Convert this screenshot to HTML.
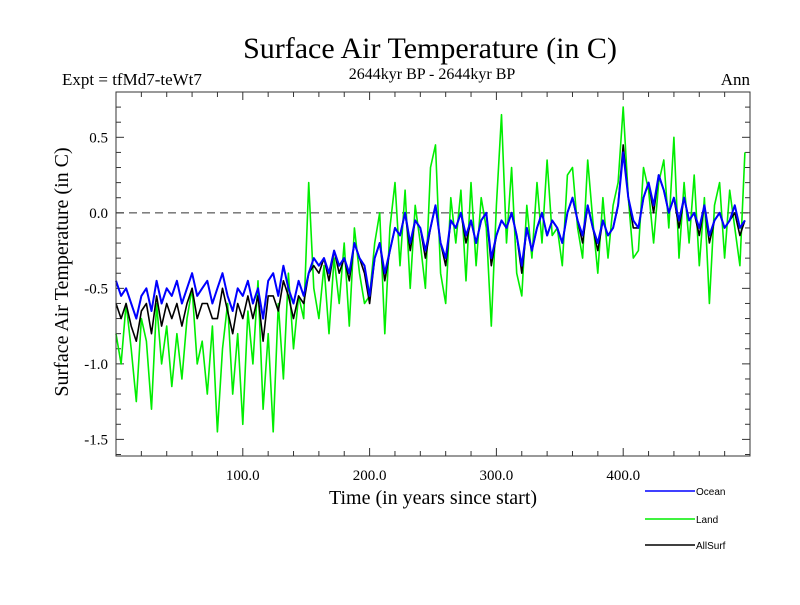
<!DOCTYPE html>
<html><head><meta charset="utf-8"><style>
body{margin:0;background:#fff;}
svg text{font-family:"Liberation Serif",serif;}
.tk{font-family:"Liberation Serif",serif;font-size:15px;}
.lg{font-family:"Liberation Sans",sans-serif;font-size:10px;}
</style></head><body>
<svg id="chart" width="800" height="600" xmlns="http://www.w3.org/2000/svg">
<rect width="800" height="600" fill="#fff"/>
<text x="430" y="58" text-anchor="middle" font-size="30">Surface Air Temperature (in C)</text>
<text x="432" y="79" text-anchor="middle" font-size="16">2644kyr BP - 2644kyr BP</text>
<text x="62" y="85" font-size="17">Expt = tfMd7-teWt7</text>
<text x="750" y="85" text-anchor="end" font-size="17">Ann</text>
<text transform="translate(68,272) rotate(-90)" text-anchor="middle" font-size="20">Surface Air Temperature (in C)</text>
<text x="433" y="504" text-anchor="middle" font-size="20">Time (in years since start)</text>
<g id="ticks"></g>
<line id="zero" stroke="#333" stroke-width="1" stroke-dasharray="8,5"/>
<g id="series"></g>
<rect x="116" y="92" width="634" height="364" fill="none" stroke="#333" stroke-width="1"/>
<g>
<line x1="645" y1="491" x2="695" y2="491" stroke="#0000ff" stroke-width="1.5"/>
<text class="lg" x="696" y="495">Ocean</text>
<line x1="645" y1="519" x2="695" y2="519" stroke="#00ee00" stroke-width="1.5"/>
<text class="lg" x="696" y="523">Land</text>
<line x1="645" y1="545" x2="695" y2="545" stroke="#000" stroke-width="1.5"/>
<text class="lg" x="696" y="549">AllSurf</text>
</g>
</svg>
<script>
const yearStep = 4;
const xTicks = [100, 200, 300, 400];
const xTickLabels = ["100.0", "200.0", "300.0", "400.0"];
const yTicks = [0.5, 0.0, -0.5, -1.0, -1.5];
const yTickLabels = ["0.5", "0.0", "-0.5", "-1.0", "-1.5"];
const ocean = [-0.45,-0.55,-0.5,-0.6,-0.7,-0.55,-0.5,-0.65,-0.45,-0.6,-0.5,-0.55,-0.45,
-0.6,-0.5,-0.4,-0.55,-0.5,-0.45,-0.6,-0.5,-0.4,-0.55,-0.65,-0.5,-0.55,
-0.45,-0.6,-0.5,-0.7,-0.45,-0.4,-0.55,-0.35,-0.5,-0.6,-0.45,-0.55,
-0.4,-0.3,-0.35,-0.3,-0.4,-0.25,-0.35,-0.3,-0.4,-0.2,-0.3,-0.35,-0.55,
-0.3,-0.2,-0.4,-0.25,-0.1,-0.15,0.0,-0.2,-0.05,-0.1,-0.25,-0.1,
0.05,-0.2,-0.3,-0.05,-0.1,0.0,-0.15,-0.05,-0.2,-0.05,0.0,-0.3,-0.15,
-0.05,-0.1,0.0,-0.15,-0.35,-0.1,-0.25,-0.1,0.0,-0.15,-0.05,-0.1,
-0.2,0.0,0.1,-0.05,-0.15,0.05,-0.1,-0.2,-0.05,-0.15,-0.1,0.05,0.4,
0.1,-0.05,-0.1,0.1,0.2,0.05,0.25,0.15,0.0,0.1,-0.05,0.1,
-0.05,0.0,-0.1,0.05,-0.15,-0.05,0.0,-0.1,-0.05,0.05,-0.1,-0.05];
const land = [-0.8,-1.0,-0.6,-0.9,-1.25,-0.7,-0.85,-1.3,-0.6,-1.0,-0.75,-1.15,-0.8,
-1.1,-0.7,-0.5,-1.0,-0.85,-1.2,-0.75,-1.45,-0.9,-0.6,-1.2,-0.8,-1.4,
-0.65,-1.0,-0.45,-1.3,-0.8,-1.45,-0.6,-1.1,-0.4,-0.9,-0.55,-0.7,
0.2,-0.5,-0.7,-0.35,-0.8,-0.3,-0.6,-0.2,-0.75,-0.1,-0.4,-0.6,-0.55,
-0.2,0.0,-0.8,-0.1,0.2,-0.35,0.15,-0.5,0.05,-0.2,-0.5,0.3,
0.45,-0.4,-0.6,0.1,-0.2,0.15,-0.45,0.2,-0.35,0.1,-0.1,-0.75,0.05,
0.65,-0.2,0.3,-0.4,-0.55,0.05,-0.3,0.2,-0.2,0.35,-0.15,-0.1,
-0.35,0.25,0.3,-0.1,-0.3,0.35,-0.05,-0.4,0.1,-0.3,0.05,0.2,0.7,
0.1,-0.3,-0.25,0.3,0.15,-0.2,0.2,0.35,-0.1,0.5,-0.3,0.2,
-0.2,0.25,-0.35,0.1,-0.6,0.05,0.2,-0.3,0.15,-0.1,-0.35,0.4];
const allSurf = [-0.6,-0.7,-0.6,-0.75,-0.85,-0.65,-0.6,-0.8,-0.55,-0.75,-0.6,-0.7,-0.6,
-0.75,-0.6,-0.5,-0.7,-0.6,-0.6,-0.7,-0.7,-0.5,-0.65,-0.8,-0.6,-0.7,
-0.55,-0.7,-0.55,-0.85,-0.55,-0.55,-0.65,-0.45,-0.55,-0.7,-0.55,-0.6,
-0.4,-0.35,-0.4,-0.3,-0.45,-0.25,-0.4,-0.3,-0.45,-0.2,-0.3,-0.4,-0.6,
-0.3,-0.2,-0.45,-0.25,-0.1,-0.15,0.0,-0.25,-0.05,-0.1,-0.3,-0.1,
0.05,-0.2,-0.35,-0.05,-0.1,0.0,-0.2,-0.05,-0.2,-0.05,0.0,-0.35,-0.15,
-0.05,-0.1,0.0,-0.15,-0.4,-0.1,-0.25,-0.1,0.0,-0.15,-0.05,-0.1,
-0.2,0.0,0.1,-0.05,-0.2,0.05,-0.1,-0.25,-0.05,-0.15,-0.1,0.05,0.45,
0.1,-0.1,-0.1,0.1,0.2,0.0,0.25,0.15,0.0,0.1,-0.1,0.1,
-0.05,0.0,-0.15,0.05,-0.2,-0.05,0.0,-0.1,-0.05,0.0,-0.15,-0.05];

const NS = "http://www.w3.org/2000/svg";
const L = 116, R = 750, T = 92, B = 456;
const xMin = 0, xMax = 500, yMin = -1.61, yMax = 0.80;
function xs(t){ return L + (t - xMin) / (xMax - xMin) * (R - L); }
function ys(v){ return B - (v - yMin) / (yMax - yMin) * (B - T); }

const tg = document.getElementById('ticks');
function mk(tag, attrs){ const e = document.createElementNS(NS, tag); for (const k in attrs) e.setAttribute(k, attrs[k]); return e; }
for (let t = 20; t < 500; t += 20) {
  const major = t % 100 === 0, len = major ? 8 : 5;
  const a = mk('line', {x1: xs(t), x2: xs(t), y1: B, y2: B - len, stroke: '#333'});
  
  
  tg.appendChild(a);
  const b = mk('line', {x1: xs(t), x2: xs(t), y1: T, y2: T + len, stroke: '#333'});
  
  
  tg.appendChild(b);
}
for (let i = -16; i <= 8; i++) {
  const v = i / 10, major = i % 5 === 0, len = major ? 8 : 5;
  const a = mk('line', {x1: L, x2: L + len, y1: ys(v), y2: ys(v), stroke: '#333'});
  
  
  tg.appendChild(a);
  const b = mk('line', {x1: R, x2: R - len, y1: ys(v), y2: ys(v), stroke: '#333'});
  
  
  tg.appendChild(b);
}
xTicks.forEach((t, i) => {
  const e = mk('text', {x: xs(t), y: 480, 'text-anchor': 'middle', class: 'tk'});
  
  
  e.textContent = xTickLabels[i];
  tg.appendChild(e);
});
yTicks.forEach((v, i) => {
  const e = mk('text', {x: 108, y: ys(v) + 5, 'text-anchor': 'end', class: 'tk'});
  
  
  e.textContent = yTickLabels[i];
  tg.appendChild(e);
});
const z = document.getElementById('zero');
z.setAttribute('x1', L); z.setAttribute('x2', R);
z.setAttribute('y1', ys(0)); z.setAttribute('y2', ys(0));

const sg = document.getElementById('series');
function drawSeries(arr, color, w, name){
  const d = arr.map((v, i) => (i ? 'L' : 'M') + xs(i * yearStep).toFixed(1) + ',' + ys(v).toFixed(1)).join(' ');
  const p = mk('path', {d: d, fill: 'none', stroke: color, 'stroke-width': w, 'stroke-linejoin': 'round'});
  
  
  sg.appendChild(p);
}
drawSeries(land, '#00ee00', 1.6, 'land-series-line');
drawSeries(allSurf, '#000000', 1.6, 'allsurf-series-line');
drawSeries(ocean, '#0000ff', 2, 'ocean-series-line');
</script>
</body></html>
